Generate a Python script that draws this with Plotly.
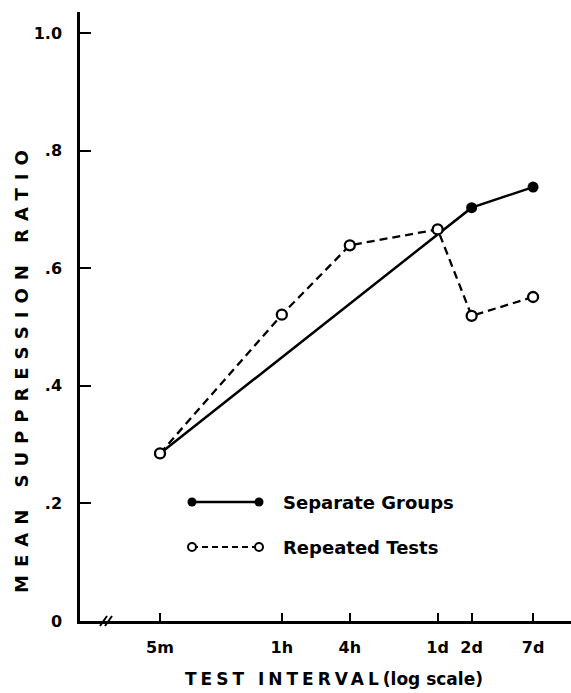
import plotly.graph_objects as go
import math

# ---- data ----
tick_minutes = [5, 60, 240, 1440, 2880, 10080]
tick_labels = ["5m", "1h", "4h", "1d", "2d", "7d"]

separate_x = [5, 2880, 10080]
separate_y = [0.285, 0.703, 0.738]

repeated_x = [5, 60, 240, 1440, 2880, 10080]
repeated_y = [0.285, 0.521, 0.639, 0.666, 0.519, 0.551]

y_tick_vals = [0, 0.2, 0.4, 0.6, 0.8, 1.0]
y_tick_text = ["0", ".2", ".4", ".6", ".8", "1.0"]

FONT = "DejaVu Sans"
W, H = 571, 693
ML, MR, MT, MB = 80, 0, 12, 72
PW, PH = W - ML - MR, H - MT - MB

fig = go.Figure()

fig.add_trace(go.Scatter(
    x=separate_x, y=separate_y, mode="lines+markers",
    line=dict(color="black", width=2.5),
    marker=dict(symbol="circle", size=11, color="black"),
    showlegend=False, hoverinfo="skip"))

fig.add_trace(go.Scatter(
    x=repeated_x, y=repeated_y, mode="lines+markers",
    line=dict(color="black", width=2.3, dash="8px,5px"),
    marker=dict(symbol="circle", size=10, color="white",
                line=dict(color="black", width=2.3)),
    showlegend=False, hoverinfo="skip"))

# ---- hand-drawn legend on an overlay axis (0..1) ----
def fx(px):
    return (px - ML) / PW

def fy(py):
    return (MT + PH - py) / PH

leg_x = [fx(192), fx(259)]
row1, row2 = fy(502), fy(547)
fig.add_trace(go.Scatter(
    x=leg_x, y=[row1, row1], xaxis="x2", yaxis="y2", mode="lines+markers",
    line=dict(color="black", width=2.3),
    marker=dict(symbol="circle", size=9, color="black"),
    showlegend=False, hoverinfo="skip"))
fig.add_trace(go.Scatter(
    x=leg_x, y=[row2, row2], xaxis="x2", yaxis="y2", mode="lines+markers",
    line=dict(color="black", width=2, dash="6px,4px"),
    marker=dict(symbol="circle", size=8, color="white",
                line=dict(color="black", width=2)),
    showlegend=False, hoverinfo="skip"))

fig.add_annotation(x=fx(281), y=row1, xref="paper", yref="paper",
                   text="Separate Groups", showarrow=False, xanchor="left",
                   yanchor="middle", font=dict(family=FONT, size=18, color="black", weight="bold"))
fig.add_annotation(x=fx(281), y=row2, xref="paper", yref="paper",
                   text="Repeated Tests", showarrow=False, xanchor="left",
                   yanchor="middle", font=dict(family=FONT, size=18, color="black", weight="bold"))

# axis titles
fig.add_annotation(x=fx(22), y=fy(368), xref="paper", yref="paper",
                   text='<span style="letter-spacing:8px">MEAN SUPPRESSION RATIO</span>',
                   textangle=-90, showarrow=False,
                   xanchor="center", yanchor="middle",
                   font=dict(family=FONT, size=18, color="black", weight="bold"))
fig.add_annotation(x=fx(334), y=fy(679), xref="paper", yref="paper",
                   text='<span style="letter-spacing:4px">TEST INTERVAL</span>(log scale)',
                   showarrow=False,
                   xanchor="center", yanchor="middle",
                   font=dict(family=FONT, size=17, color="black", weight="bold"))

# axis break "//"
for bx in (100, 105):
    fig.add_shape(type="line", xref="paper", yref="paper",
                  x0=fx(bx), y0=fy(626), x1=fx(bx + 7), y1=fy(616),
                  line=dict(color="black", width=2))

lo = math.log10(5) - (160 - ML) / 112.9
hi = math.log10(5) + (W - MR - 160) / 112.9

fig.update_layout(
    width=W, height=H,
    margin=dict(l=ML, r=MR, t=MT, b=MB, pad=0),
    plot_bgcolor="white", paper_bgcolor="white",
    font=dict(family=FONT, color="black"),
    xaxis=dict(type="log", range=[lo, hi], tickvals=tick_minutes, ticktext=tick_labels,
               ticks="inside", ticklen=8, tickwidth=2, tickcolor="black",
               showline=True, linecolor="black", linewidth=2.5,
               showgrid=False, zeroline=False,
               tickfont=dict(family=FONT, size=16, color="black", weight="bold"),
               ticklabelstandoff=10),
    yaxis=dict(range=[0, (PH - 0.5) / 587.5], tickvals=y_tick_vals, ticktext=y_tick_text,
               ticks="inside", ticklen=11, tickwidth=2, tickcolor="black",
               showline=True, linecolor="black", linewidth=2.5,
               showgrid=False, zeroline=False,
               tickfont=dict(family=FONT, size=16, color="black", weight="bold"),
               ticklabelstandoff=12),
    xaxis2=dict(overlaying="x", range=[0, 1], visible=False),
    yaxis2=dict(overlaying="y", range=[0, 1], visible=False),
)

fig.write_html("out.html", config={"displayModeBar": False},
               post_script="document.body.style.margin='0';document.body.style.overflow='hidden';")
